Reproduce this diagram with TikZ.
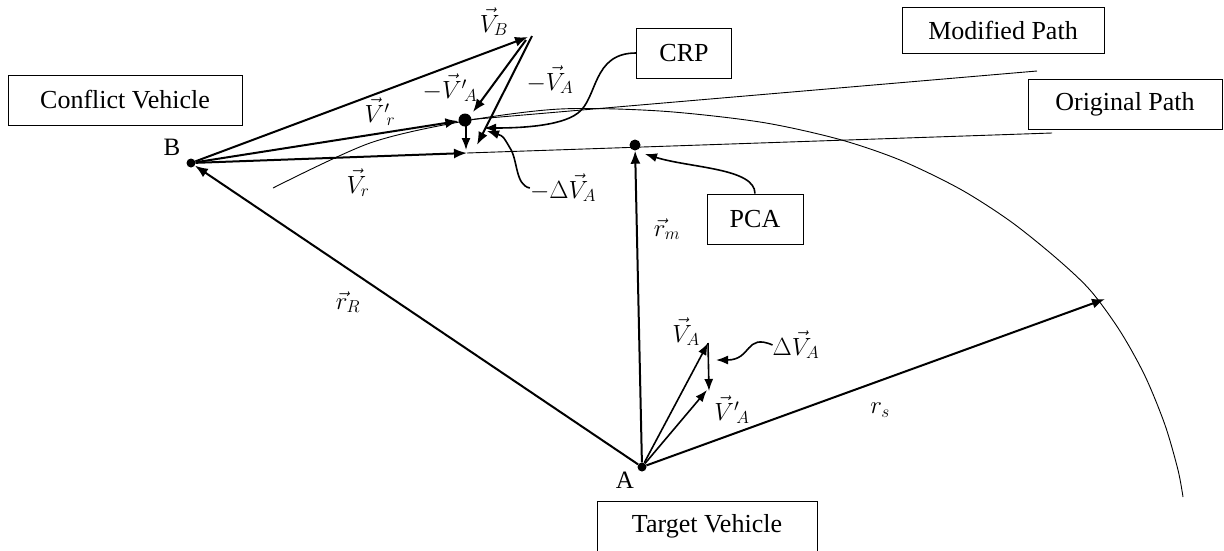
\documentclass[tikz,border=0pt]{standalone}
\usepackage{fontspec}
\setmainfont{Liberation Serif}
\usetikzlibrary{shapes,arrows.meta,calc}
\tikzstyle{vec} = [draw, line width=2pt, -{Latex[length=13pt,width=10pt]}]
\tikzstyle{thinvec} = [draw, line width=1.6pt, -{Latex[length=12pt,width=9pt]}]
\tikzstyle{callout} = [draw, line width=1.6pt, -{Latex[length=12pt,width=9pt]}]
\tikzstyle{pathline} = [draw, line width=0.9pt]
\tikzstyle{block} = [draw, line width=1pt, rectangle, text centered, minimum height=50pt, inner sep=0pt, font=\fontsize{26}{30}\selectfont]
\tikzstyle{lbl} = [inner sep=0pt, font=\fontsize{25}{29}\selectfont]
\tikzstyle{dot} = [fill, circle, inner sep=0pt, minimum size=9pt]

\begin{document}
\begin{tikzpicture}[x=1pt, y=-1pt]
        \useasboundingbox (0,0) rectangle (1224,550);
        % boxes
        \node[block, minimum width=234pt] (conflict) at (125,100) {Conflict Vehicle};
        \node[block, minimum width=95pt] (crp) at (684,53) {CRP};
        \node[block, minimum width=202pt, minimum height=46pt] (modified) at (1003,30) {Modified Path};
        \node[block, minimum width=194pt] (original) at (1125,104) {Original Path};
        \node[block, minimum width=96pt] (pca) at (755,219) {PCA};
        \node[block, minimum width=220pt] (target) at (707,526) {Target Vehicle};
        % points
        \node[dot] (B) at (191,163) {};
        \node[dot] (A) at (642,467) {};
        \node[dot, minimum size=13pt] (crpdot) at (465,120) {};
        \node[dot, minimum size=11pt] (pcadot) at (635,145) {};
        \coordinate (vbtip) at (528,37);
        \coordinate (vrtip) at (467,153);
        \coordinate (vatip) at (708,343);
        \coordinate (vpatip) at (707,390);
        \coordinate (rstip) at (1105,299);
        \coordinate (modend) at (1037,71);
        \coordinate (origend) at (1052,133);
        % paths
        \draw[line width=0.9pt] plot[smooth] coordinates {(273,188) (370,143) (465,121) (560,109) (660,111) (760,122) (838,139) (900,160) (960,189) (1010,221) (1055,257) (1090,290) (1120,331) (1145,376) (1165,425) (1178,470) (1183,497)};
        \path[pathline] (crpdot) -- (modend);
        \path[pathline] (vrtip) -- (origend);
        % relative velocity triangle
        \path[vec] (B) -- (vbtip);
        \path[vec] (B) -- (crpdot);
        \path[vec] (B) -- (vrtip);
        \path[vec] ($(vbtip)+(-2,3)$) -- (473,112);
        \path[vec] ($(vbtip)+(4,-1)$) -- (477,145);
        \path[thinvec] (466,126) -- (466,150);
        % position vectors
        \path[vec] (A) -- (B);
        \path[vec] (A) -- (pcadot);
        \path[vec] (A) -- (rstip);
        \path[thinvec] (A) -- (vatip);
        \path[thinvec] (A) -- (vpatip);
        \path[thinvec] (vatip) -- (709,391);
        % labels
        \node[lbl] (lB) at (172,147) {B};
        \node[lbl] (lA) at (625,480) {A};
        \node[lbl] (lVB) at (494,22) {$\vec{V}_B$};
        \node[lbl] (lmVpA) at (450,88) {$-\vec{V}'{}_{\!A}$};
        \node[lbl] (lmVA) at (550,80) {$-\vec{V}_A$};
        \node[lbl] (lVpr) at (380,112) {$\vec{V}'{}_{\!r}$};
        \node[lbl] (lVr) at (358,183) {$\vec{V}_r$};
        \node[lbl] (lmdVA) at (563,188) {$-\Delta\vec{V}_A$};
        \node[lbl] (lrm) at (667,229) {$\vec{r}_m$};
        \node[lbl] (lrR) at (348,302) {$\vec{r}_R$};
        \node[lbl] (lVA) at (686,332) {$\vec{V}_A$};
        \node[lbl] (ldVA) at (796,345) {$\Delta\vec{V}_A$};
        \node[lbl] (lVpA) at (732,410) {$\vec{V}'{}_{\!A}$};
        \node[lbl] (lrs) at (880,410) {$r_s$};
        % callouts
        \path[callout] (crp.west) .. controls (592,53) and (598,98) .. (578,113) .. controls (560,127) and (515,128) .. (484,128);
        \path[callout] (lmdVA.west) .. controls (515,185) and (518,160) .. (510,148) .. controls (503,136) .. (487,131);
        \path[callout] (pca.north) .. controls (755,168) and (690,168) .. (645,154);
        \path[callout] (ldVA.west) .. controls (745,333) and (752,360) .. (716,360);
\end{tikzpicture}
\end{document}
